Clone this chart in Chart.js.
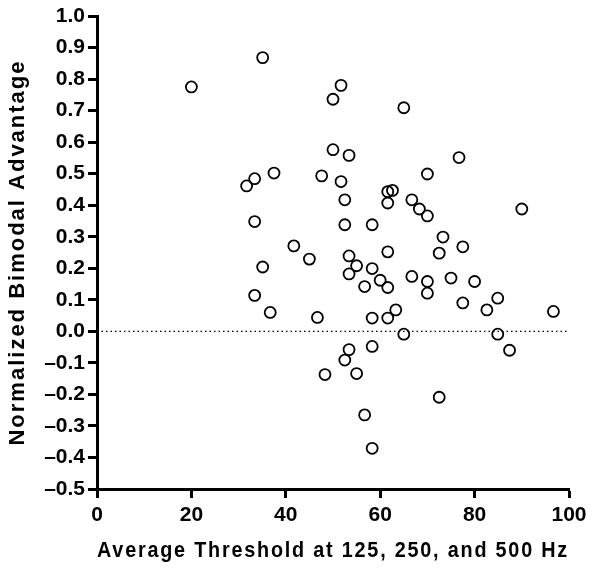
<!DOCTYPE html>
<html>
<head>
<meta charset="utf-8">
<script src="https://cdn.jsdelivr.net/npm/chart.js@4/dist/chart.umd.min.js"></script>
<style>
  html, body { margin: 0; padding: 0; background: #fff; }
  #wrap { width: 602px; height: 574px; }
</style>
</head>
<body>
<div id="wrap"><canvas id="scatterCanvas" width="602" height="574"></canvas></div>
<script>
// average threshold (dB HL) for each subject
const threshold = [
  20.0, 35.1, 37.5, 33.4, 31.7, 33.4, 41.7, 35.1, 33.4, 36.7,
  51.7, 50.0, 65.0, 50.0, 53.4, 76.7, 47.6, 70.0, 51.7, 61.6,
  62.6, 52.5, 61.6, 66.7, 68.3, 70.0, 90.0, 52.5, 58.3, 45.0,
  73.3, 77.5, 72.5, 53.4, 61.6, 55.0, 58.3, 53.4, 60.0, 56.7,
  61.6, 66.7, 70.0, 70.0, 75.0, 80.0, 77.5, 84.9, 82.6, 96.7,
  46.7, 58.3, 61.6, 63.3, 65.0, 84.9, 87.4, 53.4, 58.3, 52.5,
  55.0, 48.3, 72.5, 56.7, 58.3
];
// normalized bimodal advantage for each subject
const advantage = [
  0.775, 0.868, 0.502, 0.484, 0.461, 0.348, 0.271, 0.204, 0.114, 0.060,
  0.780, 0.736, 0.709, 0.576, 0.558, 0.551, 0.493, 0.499, 0.475, 0.443,
  0.447, 0.417, 0.407, 0.417, 0.388, 0.366, 0.388, 0.338, 0.338, 0.229,
  0.299, 0.268, 0.248, 0.239, 0.252, 0.208, 0.199, 0.182, 0.162, 0.142,
  0.139, 0.174, 0.158, 0.121, 0.169, 0.158, 0.090, 0.105, 0.068, 0.063,
  0.044, 0.042, 0.042, 0.068, -0.009, -0.009, -0.060, -0.058, -0.048, -0.091,
  -0.134, -0.137, -0.209, -0.265, -0.371
];

const xTicks = [0, 20, 40, 60, 80, 100];
const yTicks = [-0.5, -0.4, -0.3, -0.2, -0.1, 0.0, 0.1, 0.2, 0.3, 0.4, 0.5, 0.6, 0.7, 0.8, 0.9, 1.0];

const points = threshold.map((t, i) => ({ x: t, y: advantage[i] }));
const zeroLine = [{ x: xTicks[0], y: 0 }, { x: xTicks[xTicks.length - 1], y: 0 }];

const FONT = '"Liberation Sans", Arial, Helvetica, sans-serif';

// the axis titles are set wider than the tick labels: spread their letters a bit
const titleSpacing = {
    id: 'titleSpacing',
    beforeDraw: (chart) => { chart.ctx.letterSpacing = '2px'; },
    beforeDatasetsDraw: (chart) => { chart.ctx.letterSpacing = '0px'; }
};

new Chart('scatterCanvas', {
    type: 'scatter',
    data: {
        datasets: [
            {
                label: 'Subjects',
                data: points,
                pointRadius: 5.5,
                pointHoverRadius: 5.5,
                pointBorderWidth: 1.8,
                borderColor: '#000',
                backgroundColor: 'rgba(0,0,0,0)',
                order: 1
            },
            {
                label: 'zero',
                type: 'line',
                data: zeroLine,
                borderColor: '#000',
                borderWidth: 1.2,
                borderDash: [1.5, 3],
                pointRadius: 0,
                fill: false,
                order: 2
            }
        ]
    },
    plugins: [titleSpacing],
    options: {
        responsive: false,
        animation: false,
        layout: {
            padding: { left: 0, right: 33, top: 16, bottom: 0 }
        },
        plugins: {
            legend: { display: false },
            tooltip: { enabled: false }
        },
        scales: {
            x: {
                type: 'linear',
                min: xTicks[0],
                max: xTicks[xTicks.length - 1],
                afterBuildTicks: (s) => { s.ticks = xTicks.map(v => ({ value: v })); },
                afterFit: (s) => { s.height = 85; },
                grid: {
                    drawOnChartArea: false,
                    drawTicks: true,
                    tickLength: 9,
                    tickWidth: 3,
                    tickColor: '#000'
                },
                border: { display: true, color: '#000', width: 3 },
                ticks: {
                    z: 1,
                    color: '#000',
                    padding: 5,
                    maxRotation: 0,
                    font: { family: FONT, size: 21, weight: 'bold' }
                },
                title: {
                    display: true,
                    text: 'Average Threshold at 125, 250, and 500 Hz',
                    color: '#000',
                    padding: { top: 0, bottom: 10 },
                    font: { family: FONT, size: 22, weight: 'bold' }
                }
            },
            y: {
                type: 'linear',
                min: yTicks[0],
                max: yTicks[yTicks.length - 1],
                afterBuildTicks: (s) => { s.ticks = yTicks.map(v => ({ value: v })); },
                afterFit: (s) => { s.width = 97; },
                grid: {
                    drawOnChartArea: false,
                    drawTicks: true,
                    tickLength: 9,
                    tickWidth: 3,
                    tickColor: '#000'
                },
                border: { display: true, color: '#000', width: 3 },
                ticks: {
                    z: 1,
                    color: '#000',
                    padding: 3,
                    font: { family: FONT, size: 21, weight: 'bold' },
                    callback: (v) => v.toFixed(1).replace('-', '\u2013')
                },
                title: {
                    display: true,
                    text: 'Normalized Bimodal Advantage',
                    color: '#000',
                    padding: { top: 4.5, bottom: 0 },
                    font: { family: FONT, size: 22, weight: 'bold' }
                }
            }
        }
    }
});
</script>
</body>
</html>
